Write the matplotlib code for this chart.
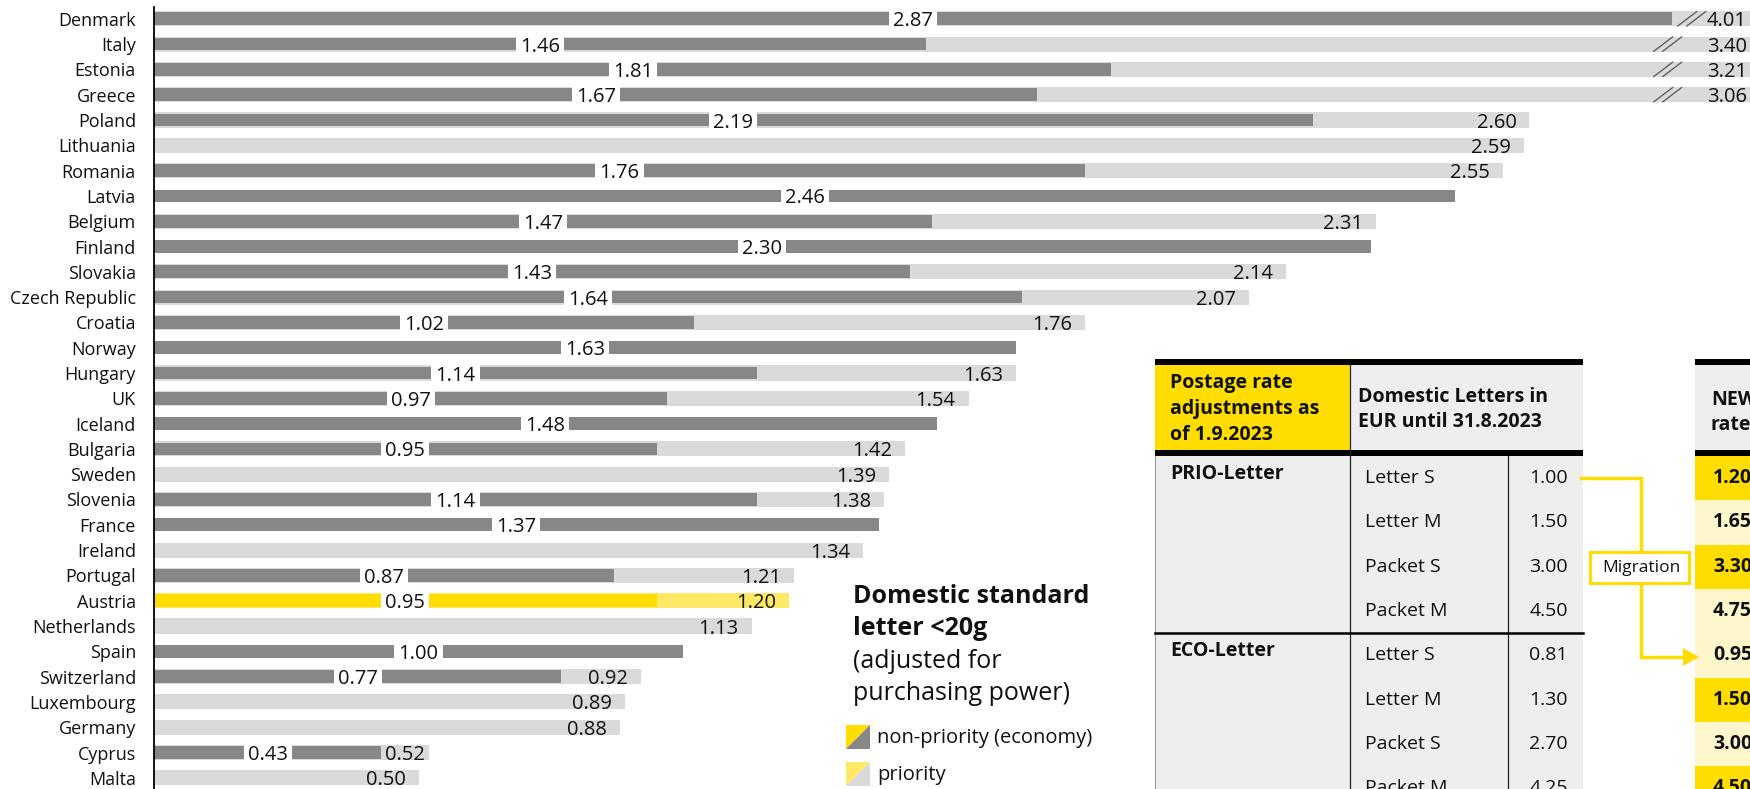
import matplotlib
matplotlib.use("Agg")
import matplotlib.pyplot as plt
from matplotlib.patches import Rectangle, Polygon
import numpy as np

plt.rcParams['font.family'] = ['Open Sans', 'DejaVu Sans']

# ---------------- data ----------------
countries = ["Denmark", "Italy", "Estonia", "Greece", "Poland", "Lithuania", "Romania",
             "Latvia", "Belgium", "Finland", "Slovakia", "Czech Republic", "Croatia",
             "Norway", "Hungary", "UK", "Iceland", "Bulgaria", "Sweden", "Slovenia",
             "France", "Ireland", "Portugal", "Austria", "Netherlands", "Spain",
             "Switzerland", "Luxembourg", "Germany", "Cyprus", "Malta"]
economy = [2.87, 1.46, 1.81, 1.67, 2.19, None, 1.76, 2.46, 1.47, 2.30, 1.43, 1.64, 1.02,
           1.63, 1.14, 0.97, 1.48, 0.95, None, 1.14, 1.37, None, 0.87, 0.95, None, 1.00,
           0.77, None, None, 0.43, None]
priority = [4.01, 3.40, 3.21, 3.06, 2.60, 2.59, 2.55, None, 2.31, None, 2.14, 2.07, 1.76,
            None, 1.63, 1.54, None, 1.42, 1.39, 1.38, None, 1.34, 1.21, 1.20, 1.13, None,
            0.92, 0.89, 0.88, 0.52, 0.50]
highlight = "Austria"

title_bold = ["Domestic standard", "letter <20g"]
title_reg = ["(adjusted for", "purchasing power)"]
legend_labels = ["non-priority (economy)", "priority"]

table_title = ["Postage rate", "adjustments as", "of 1.9.2023"]
old_header = ["Domestic Letters in", "EUR until 31.8.2023"]
new_header = ["NEW", "rates"]
groups = ["PRIO-Letter", "ECO-Letter"]
items = ["Letter S", "Letter M", "Packet S", "Packet M"]
old_prio = [1.00, 1.50, 3.00, 4.50]
old_eco = [0.81, 1.30, 2.70, 4.25]
new_rates = [1.20, 1.65, 3.30, 4.75, 0.95, 1.50, 3.00, 4.50]
new_row_dark = [True, False, True, False, False, True, False, True]
migration_label = "Migration"

# ---------------- style ----------------
DARK = "#878787"
LIGHT = "#DADADA"
YEL = "#FFDD00"
YEL_L = "#FFE866"
CREAM = "#FFF6CC"
TBL = "#EEEEEE"

W, H = 1750, 789
fig = plt.figure(figsize=(W / 100, H / 100), dpi=100)

AX_L = 154
PPU = 529
ROW0 = 18.8
ROW_H = 25.3
ax = fig.add_axes([AX_L / W, 0, 1 - AX_L / W, 1])
xmax = (W - AX_L) / PPU
ax.set_xlim(0, xmax)
ybot = (H - ROW0) / ROW_H
ax.set_ylim(ybot, -ROW0 / ROW_H)
px = 1.0 / PPU
n = len(countries)
ys = np.arange(n)

VAL_FS = 14.5
for i, (c, e, p) in enumerate(zip(countries, economy, priority)):
    hl = c == highlight
    if p is not None:
        ax.barh(i, min(p, xmax), height=0.6, color=YEL_L if hl else LIGHT, zorder=1)
    if e is not None:
        ax.barh(i, e, height=0.5, color=YEL if hl else DARK, zorder=2)
        ax.text(e / 2, i + 0.1, f"{e:.2f}", ha='center', va='center', fontsize=VAL_FS,
                color='#111111', zorder=4,
                bbox=dict(boxstyle='square,pad=0.2', fc='white', ec='none'))
    if p is not None:
        if p > xmax:
            ax.text(xmax - 3 * px, i + 0.1, f"{p:.2f}", ha='right', va='center',
                    fontsize=VAL_FS, color='#111111', zorder=4)
            bx = 2.834 if e is None else max(2.834, e + 5 * px)
            for k in range(2):
                x0 = bx + k * 9 * px
                ax.plot([x0, x0 + 20 * px], [i + 0.3, i - 0.3], color='#555555',
                        lw=0.9, zorder=3, solid_capstyle='butt')
        elif e is not None and p - e < 0.15:
            ax.text(e + 4 * px, i + 0.1, f"{p:.2f}", ha='left', va='center',
                    fontsize=VAL_FS, color='#111111', zorder=4)
        else:
            ax.text(p - 13 * px, i + 0.1, f"{p:.2f}", ha='right', va='center',
                    fontsize=VAL_FS, color='#111111', zorder=4)

ax.set_yticks(ys)
ax.set_yticklabels(countries)
ax.tick_params(axis='y', length=0, pad=13, labelsize=13, labelcolor='#111111')
ax.set_xticks([])
for s in ['top', 'right', 'bottom']:
    ax.spines[s].set_visible(False)
ax.spines['left'].set_bounds(-0.47, ybot)
ax.spines['left'].set_linewidth(1.3)
ax.spines['left'].set_color('black')

# ---------------- overlay (pixel coordinates) ----------------
ov = fig.add_axes([0, 0, 1, 1], zorder=5)
ov.set_xlim(0, W)
ov.set_ylim(H, 0)
ov.axis('off')
ov.patch.set_visible(False)

# title block
TX = 853
for k, t in enumerate(title_bold):
    ov.text(TX, 603 + 32 * k, t, fontsize=18, fontweight='bold', va='baseline', color='#111111')
for k, t in enumerate(title_reg):
    ov.text(TX, 668 + 32 * k, t, fontsize=18, va='baseline', color='#111111')

# legend icons
for k, (c1, c2) in enumerate([(YEL, DARK), (YEL_L, LIGHT)]):
    y0 = 725 + 37 * k
    x0, s = 846, 24
    ov.add_patch(Polygon([(x0, y0), (x0 + s, y0), (x0, y0 + s)], closed=True, fc=c1, ec='none'))
    ov.add_patch(Polygon([(x0 + s, y0), (x0 + s, y0 + s), (x0, y0 + s)], closed=True, fc=c2, ec='none'))
    ov.text(877, y0 + 13, legend_labels[k], fontsize=14.5, va='center', color='#111111')

# table
TL, C1, C2, TR = 1155, 1350, 1508, 1583
NL = 1695
TOP, HB, BODY = 359, 450, 456
RH = 44.3
TFS = 14
ov.add_patch(Rectangle((TL, TOP), TR - TL, 6, fc='black', ec='none'))
ov.add_patch(Rectangle((TL, TOP + 6), C1 - TL, HB - TOP - 6, fc=YEL, ec='none'))
ov.add_patch(Rectangle((C1, TOP + 6), TR - C1, HB - TOP - 6, fc=TBL, ec='none'))
ov.add_patch(Rectangle((TL, HB), TR - TL, 6, fc='black', ec='none'))
ov.add_patch(Rectangle((TL, BODY), TR - TL, H - BODY + 5, fc=TBL, ec='none'))
ov.plot([TL, TL], [BODY, H + 5], color='#999999', lw=0.8)
ov.plot([C1, C1], [TOP + 6, H + 5], color='#222222', lw=0.9)
ov.plot([C2, C2], [BODY, H + 5], color='#222222', lw=0.9)
ov.plot([TL, TR], [BODY + 4 * RH, BODY + 4 * RH], color='black', lw=1.8)

for k, t in enumerate(table_title):
    ov.text(1170, 383 + 26 * k, t, fontsize=TFS, fontweight='bold', va='center', color='#111111')
for k, t in enumerate(old_header):
    ov.text(1358, 397 + 25 * k, t, fontsize=TFS, fontweight='bold', va='center', color='#111111')

olds = old_prio + old_eco
for g, name in enumerate(groups):
    ov.text(1170, BODY + 4 * RH * g + 18, name, fontsize=TFS, fontweight='bold',
            va='center', color='#111111')
for r in range(8):
    yc = BODY + RH * (r + 0.5)
    ov.text(1365, yc, items[r % 4], fontsize=TFS, va='center', color='#111111')
    ov.text(1568, yc, f"{olds[r]:.2f}", fontsize=TFS, va='center', ha='right', color='#111111')

# NEW column
ov.add_patch(Rectangle((NL, TOP), 80, 6, fc='black', ec='none'))
ov.add_patch(Rectangle((NL, TOP + 6), 80, HB - TOP - 6, fc=TBL, ec='none'))
ov.add_patch(Rectangle((NL, HB), 80, 6, fc='black', ec='none'))
for k, t in enumerate(new_header):
    ov.text(1711, 400 + 25 * k, t, fontsize=TFS, fontweight='bold', va='center', color='#111111')
for r, (v, d) in enumerate(zip(new_rates, new_row_dark)):
    ov.add_patch(Rectangle((NL, BODY + RH * r), 80, RH, fc=YEL if d else CREAM, ec='none'))
    ov.text(1713, BODY + RH * (r + 0.5), f"{v:.2f}", fontsize=TFS, fontweight='bold',
            va='center', color='#111111')

# migration connector
MX = 1641
ov.plot([1581, MX, MX], [478, 478, 552], color=YEL, lw=2.5, solid_joinstyle='miter')
ov.plot([MX, MX, 1684], [583, 657, 657], color=YEL, lw=2.5, solid_joinstyle='miter')
ov.add_patch(Polygon([(1683, 648), (1699, 657), (1683, 666)], closed=True, fc=YEL, ec='none'))
ov.add_patch(Rectangle((1590, 552), 99, 31, fc='white', ec=YEL, lw=2.2))
ov.text(MX, 568, migration_label, fontsize=12.5, ha='center', va='center', color='#111111')

fig.savefig('out.png', dpi=100)
